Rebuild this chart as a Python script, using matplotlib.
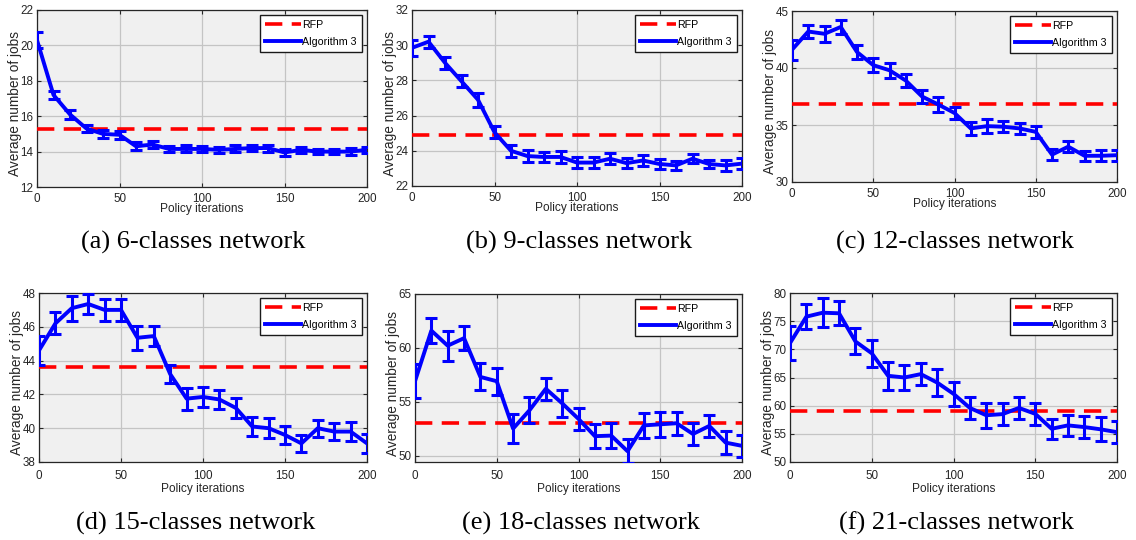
import numpy as np
import matplotlib.pyplot as plt

# policy iterations (shared x)
iters = np.arange(0, 201, 10)

# (a) 6-classes
alg_6 = [20.3, 17.2, 16.1, 15.3, 15.0, 14.95, 14.3, 14.4, 14.15, 14.15, 14.15,
         14.1, 14.15, 14.2, 14.2, 13.95, 14.1, 14.0, 14.0, 14.0, 14.1]
err_6 = [0.45, 0.25, 0.25, 0.2, 0.22, 0.22, 0.22, 0.2, 0.18, 0.2, 0.18,
         0.18, 0.2, 0.18, 0.2, 0.18, 0.18, 0.15, 0.15, 0.18, 0.18]
rfp_6 = 15.3

# (b) 9-classes
alg_9 = [29.85, 30.2, 29.0, 27.95, 26.9, 25.05, 24.0, 23.7, 23.65, 23.65, 23.33,
         23.33, 23.55, 23.3, 23.45, 23.25, 23.17, 23.55, 23.25, 23.17, 23.27]
err_9 = [0.45, 0.35, 0.35, 0.35, 0.4, 0.35, 0.35, 0.35, 0.3, 0.35, 0.3,
         0.3, 0.3, 0.3, 0.3, 0.3, 0.25, 0.25, 0.25, 0.3, 0.3]
rfp_9 = 24.9

# (c) 12-classes
alg_12 = [41.6, 43.2, 43.0, 43.6, 41.4, 40.25, 39.8, 38.9, 37.5, 36.8, 36.05,
          34.7, 34.9, 34.85, 34.7, 34.4, 32.4, 33.1, 32.3, 32.3, 32.35]
err_12 = [0.9, 0.6, 0.7, 0.6, 0.6, 0.6, 0.65, 0.6, 0.55, 0.65, 0.55,
          0.55, 0.6, 0.5, 0.5, 0.5, 0.5, 0.5, 0.45, 0.5, 0.5]
rfp_12 = 36.8

# (d) 15-classes
alg_15 = [44.6, 46.2, 47.1, 47.35, 47.0, 47.0, 45.35, 45.45, 43.2, 41.75, 41.85,
          41.7, 41.2, 40.1, 40.0, 39.6, 39.1, 40.0, 39.8, 39.8, 39.1]
err_15 = [0.85, 0.65, 0.75, 0.6, 0.65, 0.65, 0.7, 0.6, 0.55, 0.65, 0.6,
          0.55, 0.6, 0.55, 0.6, 0.55, 0.5, 0.5, 0.5, 0.55, 0.55]
rfp_15 = 43.62

# (e) 18-classes
alg_18 = [56.9, 61.6, 60.2, 60.9, 57.3, 56.9, 52.5, 54.2, 56.2, 54.85, 53.4,
          51.8, 51.85, 50.4, 52.8, 52.9, 53.0, 52.0, 52.75, 51.2, 50.9]
err_18 = [1.6, 1.15, 1.4, 1.1, 1.25, 1.25, 1.35, 1.2, 1.0, 1.25, 1.05,
          1.1, 1.15, 1.1, 1.15, 1.15, 1.05, 1.05, 1.0, 1.1, 1.0]
rfp_18 = 53.0

# (f) 21-classes
alg_21 = [71.1, 75.8, 76.5, 76.4, 71.4, 69.3, 65.3, 65.0, 65.6, 64.1, 62.1,
          59.6, 58.3, 58.5, 59.6, 58.55, 55.9, 56.5, 56.2, 55.8, 55.3]
err_21 = [3.0, 2.2, 2.6, 2.1, 2.3, 2.4, 2.5, 2.2, 1.9, 2.4, 2.1,
          2.0, 2.2, 2.0, 2.0, 2.0, 1.8, 1.9, 1.9, 2.1, 2.0]
rfp_21 = 59.0

captions = ["(a) 6-classes network", "(b) 9-classes network", "(c) 12-classes network",
            "(d) 15-classes network", "(e) 18-classes network", "(f) 21-classes network"]

W, H = 1136, 540
fig = plt.figure(figsize=(W / 100, H / 100), dpi=100)
plt.rcParams['font.family'] = ['Liberation Sans', 'DejaVu Sans']
TXT = "#262626"


def px_axes(x0, x1, y0, y1):
    # pixel box (top-left origin) -> figure fraction
    return fig.add_axes([x0 / W, 1 - y1 / H, (x1 - x0) / W, (y1 - y0) / H])


def panel(ax, box, alg, err, rfp, ylim, yticks, tick_pad, xlab_top):
    w_px, h_px = box[1] - box[0], box[3] - box[2]
    ax.set_facecolor("#f0f0f0")
    ax.plot([0, 200], [rfp, rfp], color="#ff0000", lw=2.6,
            linestyle=(0, (4.8, 2.6)), label="RFP", zorder=3)
    ax.errorbar(iters, alg, yerr=err, fmt="none", ecolor="#0000ff", capsize=4.5,
                capthick=2.2, elinewidth=2.2, zorder=4)
    ax.plot(iters, alg, color="#0000ff", lw=2.8, label="Algorithm 3", zorder=4)
    ax.set_xlim(0, 200)
    ax.set_ylim(*ylim)
    ax.set_xticks([0, 50, 100, 150, 200])
    ax.set_yticks(yticks)
    ax.grid(True, color="#c4c4c4", lw=0.9)
    ax.set_axisbelow(True)
    ax.tick_params(direction="in", length=3, width=0.8, labelsize=8.4,
                   colors=TXT, top=True, right=True)
    ax.tick_params(axis="x", pad=tick_pad)
    ax.tick_params(axis="y", pad=2.5)
    for s in ax.spines.values():
        s.set_color(TXT)
        s.set_linewidth(0.9)
    ax.set_xlabel("Policy iterations", fontsize=8.6, color=TXT, va="top")
    ax.xaxis.set_label_coords(0.5, -(xlab_top - box[3]) / h_px)
    ax.set_ylabel("Average number of jobs", fontsize=9.8, color=TXT, va="center")
    ax.yaxis.set_label_coords(-22 / w_px, 0.47)
    leg = ax.legend(loc="upper right", fontsize=7.7, handlelength=3.3,
                    handletextpad=0.15, borderpad=0.5, labelspacing=0.6,
                    fancybox=False, framealpha=1, borderaxespad=0.45)
    leg.get_frame().set_edgecolor("#1a1a1a")
    leg.get_frame().set_linewidth(1.0)


boxes = [(37, 367, 10, 187), (412, 742, 10, 186), (792, 1117, 11, 182),
         (39, 367, 293, 462), (415, 742, 294, 462), (790, 1117, 293, 462)]
datasets = [(alg_6, err_6, rfp_6, (12, 22), [12, 14, 16, 18, 20, 22]),
            (alg_9, err_9, rfp_9, (22, 32), [22, 24, 26, 28, 30, 32]),
            (alg_12, err_12, rfp_12, (30, 45), [30, 35, 40, 45]),
            (alg_15, err_15, rfp_15, (38, 48), [38, 40, 42, 44, 46, 48]),
            (alg_18, err_18, rfp_18, (49.4, 65), [50, 55, 60, 65]),
            (alg_21, err_21, rfp_21, (50, 80), [50, 55, 60, 65, 70, 75, 80])]
cap_x = [193, 579, 955, 196, 581, 956]
cap_y = [242, 242, 242, 523, 523, 523]

for i, (box, d) in enumerate(zip(boxes, datasets)):
    ax = px_axes(*box)
    top_row = i < 3
    panel(ax, box, *d, tick_pad=4.0 if top_row else 6.0,
          xlab_top=box[3] + (16 if top_row else 21))
    fig.text(cap_x[i] / W, 1 - cap_y[i] / H, captions[i], ha="center", va="center",
             fontsize=19, family=["Liberation Serif", "DejaVu Serif"])

fig.savefig("out.png", dpi=100)
